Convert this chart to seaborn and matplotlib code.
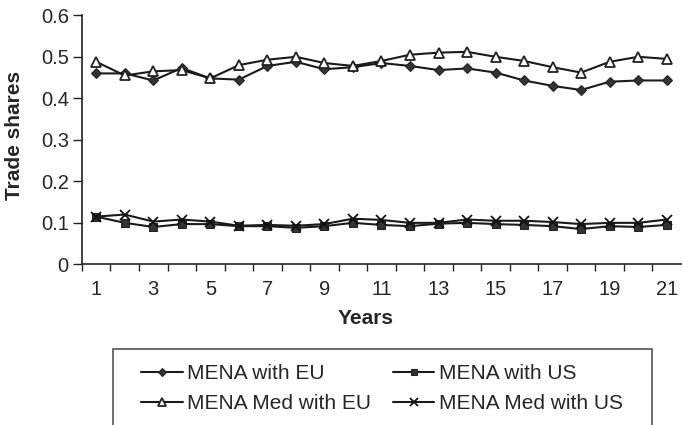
import matplotlib
matplotlib.use("Agg")
from matplotlib import pyplot as plt
from matplotlib.patches import Rectangle
import seaborn as sns
import numpy as np
import pandas as pd

# ------------------------------------------------
# ----- Datos ------------------------------------
# ------------------------------------------------
years = list(range(1, 22))
mena_eu = [0.460, 0.460, 0.443, 0.473, 0.448, 0.445, 0.478, 0.488, 0.470, 0.475, 0.485,
           0.478, 0.468, 0.472, 0.462, 0.443, 0.430, 0.420, 0.440, 0.443, 0.443]
mena_us = [0.115, 0.100, 0.090, 0.097, 0.097, 0.092, 0.092, 0.088, 0.092, 0.100, 0.095,
           0.092, 0.098, 0.100, 0.097, 0.095, 0.092, 0.085, 0.092, 0.090, 0.095]
med_eu = [0.488, 0.455, 0.465, 0.468, 0.448, 0.480, 0.493, 0.500, 0.485, 0.478, 0.490,
          0.505, 0.510, 0.512, 0.500, 0.490, 0.475, 0.462, 0.488, 0.500, 0.495]
med_us = [0.115, 0.120, 0.103, 0.108, 0.103, 0.093, 0.095, 0.093, 0.097, 0.110, 0.107,
          0.100, 0.100, 0.108, 0.105, 0.105, 0.102, 0.097, 0.100, 0.100, 0.108]
series_names = ['MENA with EU', 'MENA with US', 'MENA Med with EU', 'MENA Med with US']
y_ticks = [0, 0.1, 0.2, 0.3, 0.4, 0.5, 0.6]
y_ticklabels = ['0', '0.1', '0.2', '0.3', '0.4', '0.5', '0.6']

df = pd.DataFrame({
    'year': years * 4,
    'share': mena_eu + mena_us + med_eu + med_us,
    'series': np.repeat(series_names, len(years)),
})

# ------------------------------------------------
# ----- Figura -----------------------------------
# ------------------------------------------------
sns.set_style("ticks")
plt.rcParams['font.family'] = ['Liberation Sans', 'DejaVu Sans']

fig = plt.figure(figsize=(6.83, 4.25), dpi=100)
ax = fig.add_axes([0.120, 0.378, 0.877, 0.586])

# estilo de cada serie: marcador, tamaño, relleno, borde
estilos = {
    'MENA with EU': dict(marker='D', markersize=5.5, markerfacecolor='#333333', markeredgecolor='#222222'),
    'MENA with US': dict(marker='s', markersize=5.5, markerfacecolor='#333333', markeredgecolor='#222222'),
    'MENA Med with EU': dict(marker='^', markersize=7.5, markerfacecolor='white', markeredgecolor='#222222',
                             markeredgewidth=1.3),
    'MENA Med with US': dict(marker='x', markersize=7, markeredgecolor='#111111', markeredgewidth=1.3),
}

handles = {}
for name in series_names:
    sub = df[df['series'] == name]
    sns.lineplot(data=sub, x='year', y='share', color='#1a1a1a', linewidth=1.5,
                 ax=ax, legend=False, **estilos[name])
    handles[name] = ax.get_lines()[-1]

# ejes
ax.set_xlim(0.5, 21.5)
ax.set_ylim(0, 0.6)
ax.set_xticks([y for y in years if y % 2 == 1])
ax.set_xticks([y - 0.5 for y in years], minor=True)
ax.set_yticks(y_ticks)
ax.set_yticklabels(y_ticklabels)
ax.tick_params(axis='y', labelsize=14.5, length=6.5, width=1, color='#222222', pad=3)
ax.tick_params(axis='x', which='major', labelsize=14.5, length=0, pad=11)
ax.tick_params(axis='x', which='minor', length=5, width=1, color='#222222')
ax.set_xlabel('Years', fontsize=15, fontweight='bold')
ax.set_ylabel('Trade shares', fontsize=15, fontweight='bold')
ax.xaxis.set_label_coords(0.474, -0.216)
ax.xaxis.label.set_va('center')
ax.yaxis.set_label_coords(-0.112, 0.519)
ax.yaxis.label.set_va('center')
for s in ['left', 'bottom']:
    ax.spines[s].set_color('#222222')
    ax.spines[s].set_linewidth(1.2)
sns.despine(ax=ax)

# leyenda (orden por filas como en el original)
orden = ['MENA with EU', 'MENA Med with EU', 'MENA with US', 'MENA Med with US']
leg = fig.legend([handles[n] for n in orden], orden, loc='upper left', ncol=2,
                 bbox_to_anchor=(141 / 683, 1 - 364 / 425), frameon=False,
                 fontsize=15, handlelength=2.0, handletextpad=0.2,
                 columnspacing=1.05, borderpad=0, labelspacing=0.55,
                 borderaxespad=0, markerscale=0.8)
fig.patches.append(Rectangle((113 / 683, -0.1), 539 / 683, 1 - 349 / 425 + 0.1,
                             transform=fig.transFigure, fill=False,
                             edgecolor='#555555', linewidth=1.2))

fig.savefig('out.png', dpi=100)
